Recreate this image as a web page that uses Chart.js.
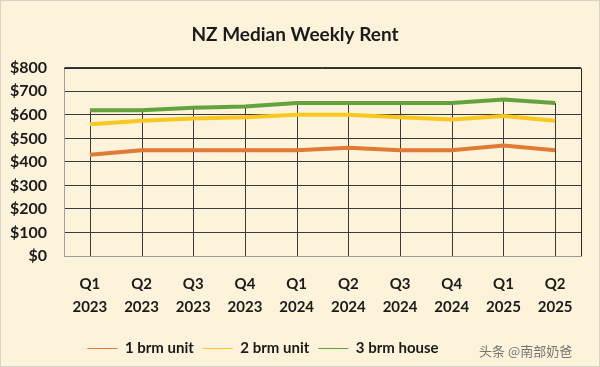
<!DOCTYPE html>
<html>
<head>
<meta charset="utf-8">
<script src="https://cdn.jsdelivr.net/npm/chart.js"></script>
<style>
  html, body { margin: 0; padding: 0; background: #fdf2da; }
  #wrap { position: relative; width: 600px; height: 367px; box-sizing: border-box; border: 1px solid #d8d3c8; }
  #rentChart { display: block; }
  #mark { position: absolute; left: 478px; top: 340px; font: 13px "Noto Sans CJK SC", sans-serif; color: rgba(95, 95, 95, 0.85); }
</style>
</head>
<body>
<div id="wrap">
  <canvas id="rentChart" width="598" height="365"></canvas>
  <div id="mark">头条 @南部奶爸</div>
</div>
<script>
const quarters = [['Q1', '2023'], ['Q2', '2023'], ['Q3', '2023'], ['Q4', '2023'], ['Q1', '2024'],
  ['Q2', '2024'], ['Q3', '2024'], ['Q4', '2024'], ['Q1', '2025'], ['Q2', '2025']];
const oneBrmUnit = [430, 450, 450, 450, 450, 460, 450, 450, 470, 450];
const twoBrmUnit = [560, 575, 585, 590, 600, 600, 590, 580, 595, 575];
const threeBrmHouse = [620, 620, 630, 635, 650, 650, 650, 650, 665, 650];
const yTicks = [0, 100, 200, 300, 400, 500, 600, 700, 800];

const font = 'Lato';
const ink = '#1a1a1a';

// Excel-style drop lines from the highest point down to the axis, plus plot border
const dropLines = {
  id: 'dropLines',
  afterLayout(chart) {
    // the original legend sits a little left of centre
    chart.legend.right -= 64;
  },
  beforeDatasetsDraw(chart) {
    const { ctx, chartArea, scales } = chart;
    ctx.save();
    ctx.strokeStyle = '#3a3a3a';
    ctx.lineWidth = 1;
    quarters.forEach((q, i) => {
      const top = Math.max(...chart.data.datasets.map(d => d.data[i]));
      const x = Math.round(scales.x.getPixelForValue(i)) + 0.5;
      ctx.beginPath();
      ctx.moveTo(x, scales.y.getPixelForValue(top));
      ctx.lineTo(x, chartArea.bottom);
      ctx.stroke();
    });
    ctx.strokeStyle = '#2a2a2a';
    ctx.beginPath();
    ctx.moveTo(chartArea.left, Math.round(chartArea.top) + 0.5);
    ctx.lineTo(Math.round(chartArea.right) + 0.5, Math.round(chartArea.top) + 0.5);
    ctx.lineTo(Math.round(chartArea.right) + 0.5, chartArea.bottom);
    ctx.stroke();
    ctx.restore();
  }
};

new Chart(document.getElementById('rentChart'), {
  type: 'line',
  data: {
    labels: quarters,
    datasets: [
      { label: '1 brm unit', data: oneBrmUnit, borderColor: '#e07a36', backgroundColor: '#e07a36' },
      { label: '2 brm unit', data: twoBrmUnit, borderColor: '#f8c81e', backgroundColor: '#f8c81e' },
      { label: '3 brm house', data: threeBrmHouse, borderColor: '#64a23e', backgroundColor: '#64a23e' }
    ]
  },
  options: {
    responsive: false,
    animation: false,
    elements: {
      line: { borderWidth: 4, tension: 0 },
      point: { radius: 0 }
    },
    layout: { padding: { left: 8, right: 18, top: 0, bottom: 0 } },
    plugins: {
      title: {
        display: true,
        text: 'NZ Median Weekly Rent',
        color: ink,
        font: { family: font, size: 19, weight: 'bold' },
        padding: { top: 22, bottom: 22 }
      },
      legend: {
        position: 'bottom',
        labels: {
          color: ink,
          font: { family: font, size: 15, weight: 'bold' },
          usePointStyle: true,
          pointStyle: 'line',
          pointStyleWidth: 30,
          padding: 9
        }
      },
      tooltip: { enabled: false }
    },
    scales: {
      x: {
        offset: true,
        grid: { display: false },
        border: { display: true, color: '#9a9a9a' },
        ticks: { color: ink, font: { family: font, size: 15, weight: 'bold', lineHeight: 1.53 }, maxRotation: 0, padding: 9 },
        afterFit(scale) { scale.height = 76; }
      },
      y: {
        min: 0,
        max: 800,
        afterBuildTicks(scale) { scale.ticks = yTicks.map(v => ({ value: v })); },
        grid: { color: '#3a3a3a', lineWidth: 1, drawTicks: false },
        border: { display: true, color: '#a0a0a0' },
        ticks: {
          color: ink,
          font: { family: font, size: 16, weight: 'bold' },
          padding: 17,
          callback: v => '$' + v
        },
        afterFit(scale) { scale.width = 55; }
      }
    }
  },
  plugins: [dropLines]
});
</script>
</body>
</html>
